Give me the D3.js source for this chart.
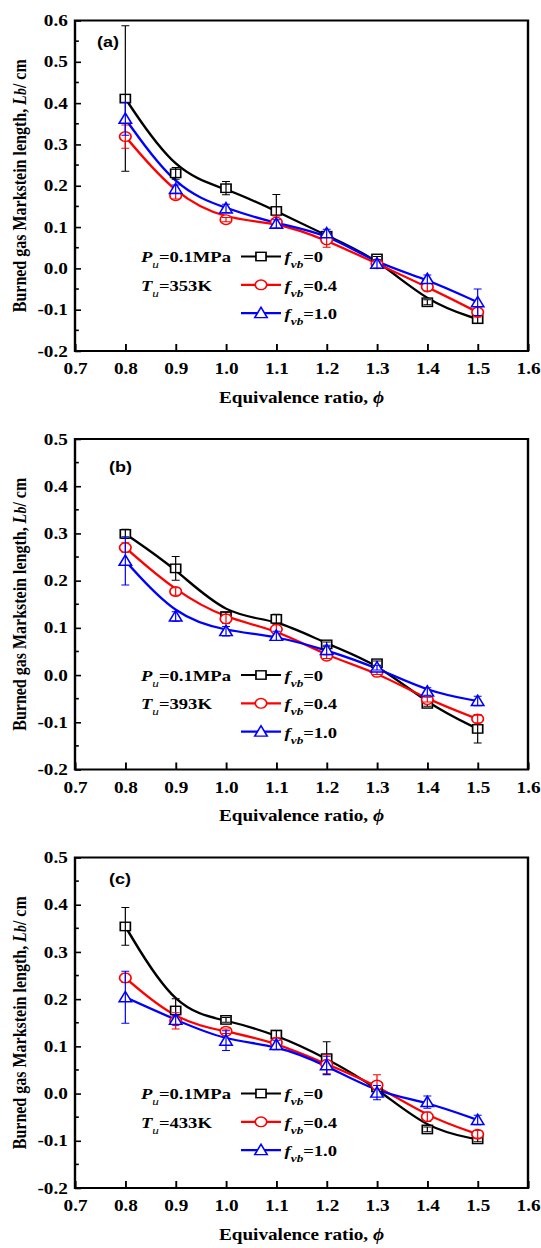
<!DOCTYPE html>
<html>
<head>
<meta charset="utf-8">
<script src="https://cdn.jsdelivr.net/npm/d3@7"></script>
<style>
  body { margin: 0; background: #fff; }
  text { font-family: "Liberation Serif", "Times New Roman", serif; font-weight: bold; fill: #000; }
</style>
</head>
<body>
<div id="chart"></div>
<script>
// equivalence ratio
const phi = [0.8, 0.9, 1.0, 1.1, 1.2, 1.3, 1.4, 1.5]
const xTicks = [0.7, 0.8, 0.9, 1.0, 1.1, 1.2, 1.3, 1.4, 1.5, 1.6]

const fvbLabels = ['0', '0.4', '1.0']
const seriesColors = ['#000000', '#ff0000', '#0000ff']
const seriesShapes = ['square', 'circle', 'triangle']

const panelLabels = ['(a)', '(b)', '(c)']
const unburnedTemps = ['353K', '393K', '433K']
const yDomains = [[-0.2, 0.6], [-0.2, 0.5], [-0.2, 0.5]]

// (a) Tu = 353K
const lbA_f0 = [0.411, 0.230, 0.194, 0.139, 0.079, 0.024, -0.082, -0.123]
const lbA_f04 = [0.319, 0.176, 0.118, 0.112, 0.069, 0.011, -0.045, -0.106]
const lbA_f10 = [0.362, 0.192, 0.145, 0.108, 0.085, 0.011, -0.026, -0.082]
const errA_f0 = [0.176, 0.014, 0.016, 0.040, 0.005, 0.005, 0.006, 0.010]
const errA_f04 = [0.028, 0.008, 0.005, 0.015, 0.018, 0.005, 0.010, 0.012]
const errA_f10 = [0.040, 0.010, 0.010, 0.010, 0.010, 0.010, 0.010, 0.032]

// (b) Tu = 393K
const lbB_f0 = [0.299, 0.226, 0.125, 0.119, 0.065, 0.025, -0.061, -0.114]
const lbB_f04 = [0.270, 0.177, 0.119, 0.097, 0.040, 0.006, -0.052, -0.093]
const lbB_f10 = [0.242, 0.124, 0.093, 0.083, 0.053, 0.016, -0.035, -0.055]
const errB_f0 = [0.010, 0.025, 0.008, 0.010, 0.005, 0.005, 0.005, 0.030]
const errB_f04 = [0.010, 0.008, 0.010, 0.010, 0.005, 0.005, 0.005, 0.008]
const errB_f10 = [0.051, 0.010, 0.010, 0.010, 0.010, 0.005, 0.008, 0.010]

// (c) Tu = 433K
const lbC_f0 = [0.354, 0.176, 0.156, 0.125, 0.075, 0.013, -0.076, -0.097]
const lbC_f04 = [0.245, 0.154, 0.132, 0.108, 0.062, 0.018, -0.049, -0.086]
const lbC_f10 = [0.204, 0.156, 0.112, 0.103, 0.060, 0.002, -0.018, -0.056]
const errC_f0 = [0.040, 0.025, 0.005, 0.008, 0.035, 0.005, 0.005, 0.005]
const errC_f04 = [0.010, 0.017, 0.005, 0.010, 0.020, 0.022, 0.010, 0.008]
const errC_f10 = [0.055, 0.010, 0.021, 0.010, 0.019, 0.015, 0.013, 0.010]

const panelValues = [
  [lbA_f0, lbA_f04, lbA_f10],
  [lbB_f0, lbB_f04, lbB_f10],
  [lbC_f0, lbC_f04, lbC_f10]
]
const panelErrors = [
  [errA_f0, errA_f04, errA_f10],
  [errB_f0, errB_f04, errB_f10],
  [errC_f0, errC_f04, errC_f10]
]

// the figure is stretched horizontally, so everything is drawn in a narrower
// frame and scaled up
let stretch = 1.2
let fullWidth = 541
let fullHeight = 1248

let plotLeft = 75 / stretch
let plotRight = 528 / stretch
let plotHeight = 330.5
let panelTops = [20.5, 439, 857.5]
let panelLabelPos = [[97, 22], [109, 28], [109, 22]]

let svg = d3
  .select('#chart')
  .append('svg')
  .attr('width', fullWidth)
  .attr('height', fullHeight)

let root = svg.append('g').attr('transform', `scale(${stretch},1)`)

let fmt = d => d3.format('.1f')(d).replace('−', '-')

let x = d3.scaleLinear().domain([0.7, 1.6]).range([plotLeft, plotRight])

function drawMarker(g, shape, color) {
  if (shape === 'square') {
    g.append('rect')
      .attr('x', -4.2).attr('y', -4.2).attr('width', 8.4).attr('height', 8.4)
      .attr('fill', '#fff').attr('stroke', color).attr('stroke-width', 1.4)
  } else if (shape === 'circle') {
    g.append('circle')
      .attr('r', 4.8)
      .attr('fill', '#fff').attr('stroke', color).attr('stroke-width', 1.4)
  } else {
    g.append('path')
      .attr('d', 'M0,-5.8L5.2,4.5L-5.2,4.5Z')
      .attr('fill', '#fff').attr('stroke', color).attr('stroke-width', 1.4)
  }
}

panelTops.forEach((top, p) => {
  let g = root.append('g').attr('transform', `translate(0,${top})`)

  let y = d3.scaleLinear().domain(yDomains[p]).range([plotHeight, 0])

  // frame
  g.append('rect')
    .attr('x', plotLeft).attr('y', 0)
    .attr('width', plotRight - plotLeft).attr('height', plotHeight)
    .attr('fill', 'none').attr('stroke', '#000').attr('stroke-width', 2)

  // x axis, ticks inward
  let xAxis = d3.axisBottom(x).tickValues(xTicks).tickSizeInner(-7).tickSizeOuter(0).tickPadding(12).tickFormat(fmt)
  let gx = g.append('g').attr('transform', `translate(0,${plotHeight})`).call(xAxis)
  gx.select('.domain').remove()
  gx.selectAll('line').attr('stroke-width', 1.6)
  gx.selectAll('text').attr('font-size', 16)

  // y axis, major and minor ticks inward
  let [y0, y1] = yDomains[p]
  let majors = d3.range(Math.round(y0 * 10), Math.round(y1 * 10) + 1).map(d => d / 10)
  let minors = majors.slice(0, -1).map(d => d + 0.05)
  let yAxis = d3.axisLeft(y).tickValues(majors).tickSizeInner(-5).tickSizeOuter(0).tickPadding(6).tickFormat(fmt)
  let gy = g.append('g').attr('transform', `translate(${plotLeft},0)`).call(yAxis)
  gy.select('.domain').remove()
  gy.selectAll('line').attr('stroke-width', 1.6)
  gy.selectAll('text').attr('font-size', 16)

  g.append('g')
    .selectAll('line')
    .data(minors)
    .enter()
    .append('line')
    .attr('x1', plotLeft).attr('x2', plotLeft + 3.2)
    .attr('y1', d => y(d)).attr('y2', d => y(d))
    .attr('stroke', '#000').attr('stroke-width', 1.6)

  // axis titles
  g.append('text')
    .attr('x', (plotLeft + plotRight) / 2)
    .attr('y', plotHeight + 52)
    .attr('text-anchor', 'middle')
    .attr('font-size', 16)
    .text('Equivalence ratio, ')
    .append('tspan').attr('font-style', 'italic').text('ϕ')

  let yTitle = g.append('text')
    .attr('transform', `translate(21.5,${plotHeight / 2}) rotate(-90)`)
    .attr('text-anchor', 'middle')
    .attr('font-size', 16)
  yTitle.append('tspan').text('Burned gas Markstein length, ')
  yTitle.append('tspan').attr('font-style', 'italic').text('L')
  yTitle.append('tspan').attr('font-style', 'italic').attr('font-size', 14).text('b')
  yTitle.append('tspan').text('/ cm')

  // panel label
  g.append('text')
    .attr('x', panelLabelPos[p][0] / stretch)
    .attr('y', panelLabelPos[p][1] + 5)
    .style('font-family', '"Liberation Sans", Arial, sans-serif')
    .attr('font-size', 15)
    .text(panelLabels[p])

  // curves
  let line = d3.line()
    .x((d, i) => x(phi[i]))
    .y(d => y(d))
    .curve(d3.curveBasis)

  panelValues[p].forEach((vals, s) => {
    g.append('path')
      .datum(vals)
      .attr('d', line)
      .attr('fill', 'none')
      .attr('stroke', seriesColors[s])
      .attr('stroke-width', 2.2)
  })

  // markers and error bars
  panelValues[p].forEach((vals, s) => {
    let errs = panelErrors[p][s]
    let sg = g.append('g')

    sg.selectAll('.marker')
      .data(vals)
      .enter()
      .append('g')
      .attr('class', 'marker')
      .attr('transform', (d, i) => `translate(${x(phi[i])},${y(d)})`)
      .each(function() {
        drawMarker(d3.select(this), seriesShapes[s], seriesColors[s])
      })

    sg.selectAll('.err')
      .data(vals)
      .enter()
      .append('path')
      .attr('class', 'err')
      .attr('d', (d, i) => {
        let cx = x(phi[i])
        let hi = y(d + errs[i])
        let lo = y(d - errs[i])
        return `M${cx},${lo}V${hi}M${cx - 3.3},${hi}H${cx + 3.3}M${cx - 3.3},${lo}H${cx + 3.3}`
      })
      .attr('fill', 'none')
      .attr('stroke', seriesColors[s])
      .attr('stroke-width', 1)
  })

  // condition text
  let condX = 141 / stretch
  let row0 = 236
  let rowGap = 28.3

  let pText = g.append('text').attr('x', condX).attr('y', row0 + 6).attr('font-size', 15.5)
  pText.append('tspan').attr('font-style', 'italic').text('P')
  pText.append('tspan').attr('font-style', 'italic').attr('font-weight', 'normal').attr('font-size', 11).attr('dy', 6).text('u')
  pText.append('tspan').attr('dy', -6).text('=0.1MPa')

  let tText = g.append('text').attr('x', condX).attr('y', row0 + rowGap + 6).attr('font-size', 15.5)
  tText.append('tspan').attr('font-style', 'italic').text('T')
  tText.append('tspan').attr('font-style', 'italic').attr('font-weight', 'normal').attr('font-size', 11).attr('dy', 6).text('u')
  tText.append('tspan').attr('dy', -6).text('=' + unburnedTemps[p])

  // legend
  let legX0 = 241 / stretch
  let legX1 = 281 / stretch
  fvbLabels.forEach((lab, s) => {
    let ly = row0 + s * rowGap
    let lg = g.append('g')
    lg.append('line')
      .attr('x1', legX0).attr('x2', legX1)
      .attr('y1', ly).attr('y2', ly)
      .attr('stroke', seriesColors[s]).attr('stroke-width', 2.2)
    let mg = lg.append('g').attr('transform', `translate(${(legX0 + legX1) / 2},${ly})`)
    drawMarker(mg, seriesShapes[s], seriesColors[s])

    let t = lg.append('text').attr('x', legX1 + 3).attr('y', ly + 6).attr('font-size', 15.5)
    t.append('tspan').attr('font-style', 'italic').text('f')
    t.append('tspan').attr('font-style', 'italic').attr('font-size', 11).attr('dy', 6).text('vb')
    t.append('tspan').attr('dy', -6).text('=' + lab)
  })
})
</script>
</body>
</html>
